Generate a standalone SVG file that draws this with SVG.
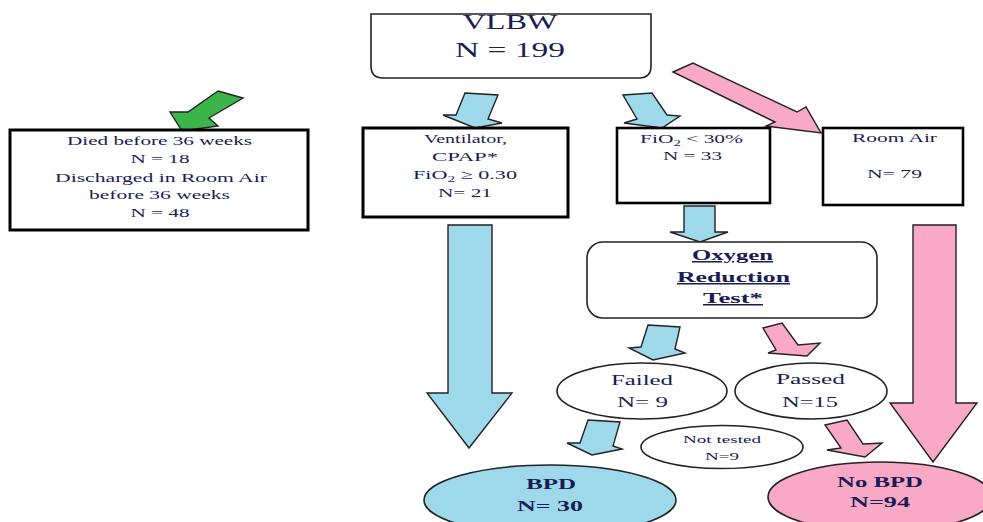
<svg xmlns="http://www.w3.org/2000/svg" width="983" height="522" viewBox="0 0 983 522">
<style>
text{font-family:"Liberation Serif","Times New Roman",serif;fill:#1b1b55;text-anchor:middle}
.s12{font-size:13px}
.s15{font-size:15px}
.b{font-weight:bold}
.u{text-decoration:underline}
.box{fill:#fff;stroke:#000;stroke-width:3}
.rbox{fill:#fff;stroke:#222;stroke-width:1.6}
.ell{fill:#fff;stroke:#222;stroke-width:1.6}
.blue{fill:#9dd9ea;stroke:#222;stroke-width:1.4;stroke-linejoin:miter}
.pink{fill:#f9a8c5;stroke:#222;stroke-width:1.4;stroke-linejoin:miter}
.green{fill:#3bb54a;stroke:#222;stroke-width:1.4;stroke-linejoin:miter}
</style>

<g id="connectors">
  <polygon class="green" points="218,91 243,98 209,118 218,126 182,131 170,112 188,112"/>
  <polygon class="blue" points="465,93 498,95 488,119 502,123 475,128 443,115 456,115"/>
  <polygon class="blue" points="623,95 652,93 667,115 680,116 662,128 624,123 637,119"/>
  <polygon class="pink" points="673,72 693,63 797,112 806,107 821,133 766,126 775,122"/>
  <polygon class="blue" points="684,206 715,206 715,232 728,232 700,242 670,232 684,232"/>
  <polygon class="blue" points="448,225 492,225 492,393 512,393 469,448 427,393 448,393"/>
  <polygon class="pink" points="913,225 956,225 956,403 977,403 933,462 890,403 913,403"/>
  <polygon class="blue" points="648,325 680,327 675,349 685,353 653,360 629,348 641,347"/>
  <polygon class="pink" points="763,328 782,323 798,345 820,343 807,356 768,353 776,350"/>
  <polygon class="blue" points="588,420 620,422 613,446 622,449 592,455 567,443 580,443"/>
  <polygon class="pink" points="825,425 847,420 863,444 882,443 865,457 827,450 841,448"/>
</g>

<g id="vlbw">
  <path class="rbox" d="M371,14 H651 V66 Q651,78 639,78 H383 Q371,78 371,66 Z"/>
  <text x="510" y="29" style="font-size:21px" textLength="95" lengthAdjust="spacingAndGlyphs">VLBW</text>
  <text x="510" y="57" style="font-size:21px" textLength="110" lengthAdjust="spacingAndGlyphs">N = 199</text>
</g>

<g id="died">
  <rect class="box" x="10" y="130" width="298" height="100"/>
  <text class="s12" x="159.5" y="145" textLength="185" lengthAdjust="spacingAndGlyphs">Died before 36 weeks</text>
  <text class="s12" x="160" y="163" textLength="59" lengthAdjust="spacingAndGlyphs">N = 18</text>
  <text class="s12" x="161" y="182" textLength="212" lengthAdjust="spacingAndGlyphs">Discharged in Room Air</text>
  <text class="s12" x="159.5" y="199" textLength="141" lengthAdjust="spacingAndGlyphs">before 36 weeks</text>
  <text class="s12" x="160" y="217" textLength="59" lengthAdjust="spacingAndGlyphs">N = 48</text>
</g>

<g id="ventilator">
  <rect class="box" x="363" y="128" width="205" height="89"/>
  <text class="s12" x="465.5" y="143" textLength="83" lengthAdjust="spacingAndGlyphs">Ventilator,</text>
  <text class="s12" x="465" y="161" textLength="66" lengthAdjust="spacingAndGlyphs">CPAP*</text>
  <text class="s12" x="465" y="179" textLength="104" lengthAdjust="spacingAndGlyphs">FiO<tspan style="font-size:9px" dy="3">2</tspan><tspan dy="-3"> ≥ 0.30</tspan></text>
  <text class="s12" x="465" y="197" textLength="54" lengthAdjust="spacingAndGlyphs">N= 21</text>
</g>

<g id="fio2">
  <rect class="box" x="617" y="128" width="153" height="75" style="stroke-width:2.6"/>
  <text class="s12" x="691.5" y="143" textLength="103" lengthAdjust="spacingAndGlyphs">FiO<tspan style="font-size:9px" dy="3">2</tspan><tspan dy="-3"> &lt; 30%</tspan></text>
  <text class="s12" x="692.5" y="160" textLength="59" lengthAdjust="spacingAndGlyphs">N = 33</text>
</g>

<g id="roomair">
  <rect class="box" x="823" y="128" width="140" height="77" style="stroke-width:2.6"/>
  <text class="s12" x="894.5" y="142" textLength="85" lengthAdjust="spacingAndGlyphs">Room Air</text>
  <text class="s12" x="894.5" y="178" textLength="55" lengthAdjust="spacingAndGlyphs">N= 79</text>
</g>

<g id="ort">
  <rect class="rbox" x="587" y="242" width="290" height="76" rx="16"/>
  <text class="s15 b u" x="732.5" y="260" textLength="81" lengthAdjust="spacingAndGlyphs">Oxygen</text>
  <text class="s15 b u" x="733.5" y="282" textLength="113" lengthAdjust="spacingAndGlyphs">Reduction</text>
  <text class="s15 b u" x="733" y="303" textLength="60" lengthAdjust="spacingAndGlyphs">Test*</text>
</g>

<g id="failed">
  <ellipse class="ell" cx="642" cy="391" rx="85" ry="28"/>
  <text class="s15" x="642" y="385" textLength="62" lengthAdjust="spacingAndGlyphs">Failed</text>
  <text class="s15" x="642.5" y="407" textLength="51" lengthAdjust="spacingAndGlyphs">N= 9</text>
</g>

<g id="passed">
  <ellipse class="ell" cx="811" cy="391" rx="76" ry="28"/>
  <text class="s15" x="810.5" y="384" textLength="69" lengthAdjust="spacingAndGlyphs">Passed</text>
  <text class="s15" x="810" y="407" textLength="56" lengthAdjust="spacingAndGlyphs">N=15</text>
</g>

<g id="nottested">
  <ellipse class="ell" cx="722" cy="447" rx="81" ry="21.5"/>
  <text x="722" y="443" style="font-size:11px" textLength="78" lengthAdjust="spacingAndGlyphs">Not tested</text>
  <text x="722" y="460" style="font-size:11px" textLength="34" lengthAdjust="spacingAndGlyphs">N=9</text>
</g>

<g id="bpd">
  <ellipse cx="550" cy="500" rx="126" ry="35" style="fill:#9dd9ea;stroke:#222;stroke-width:1.6"/>
  <text class="s15 b" x="551" y="489" textLength="50" lengthAdjust="spacingAndGlyphs">BPD</text>
  <text class="s15 b" x="550" y="511" textLength="66" lengthAdjust="spacingAndGlyphs">N= 30</text>
</g>

<g id="nobpd">
  <ellipse cx="880" cy="497" rx="112" ry="35" style="fill:#f9a8c5;stroke:#222;stroke-width:1.6"/>
  <text class="s15 b" x="880" y="487" textLength="86" lengthAdjust="spacingAndGlyphs">No BPD</text>
  <text class="s15 b" x="880" y="507" textLength="60" lengthAdjust="spacingAndGlyphs">N=94</text>
</g>
</svg>
